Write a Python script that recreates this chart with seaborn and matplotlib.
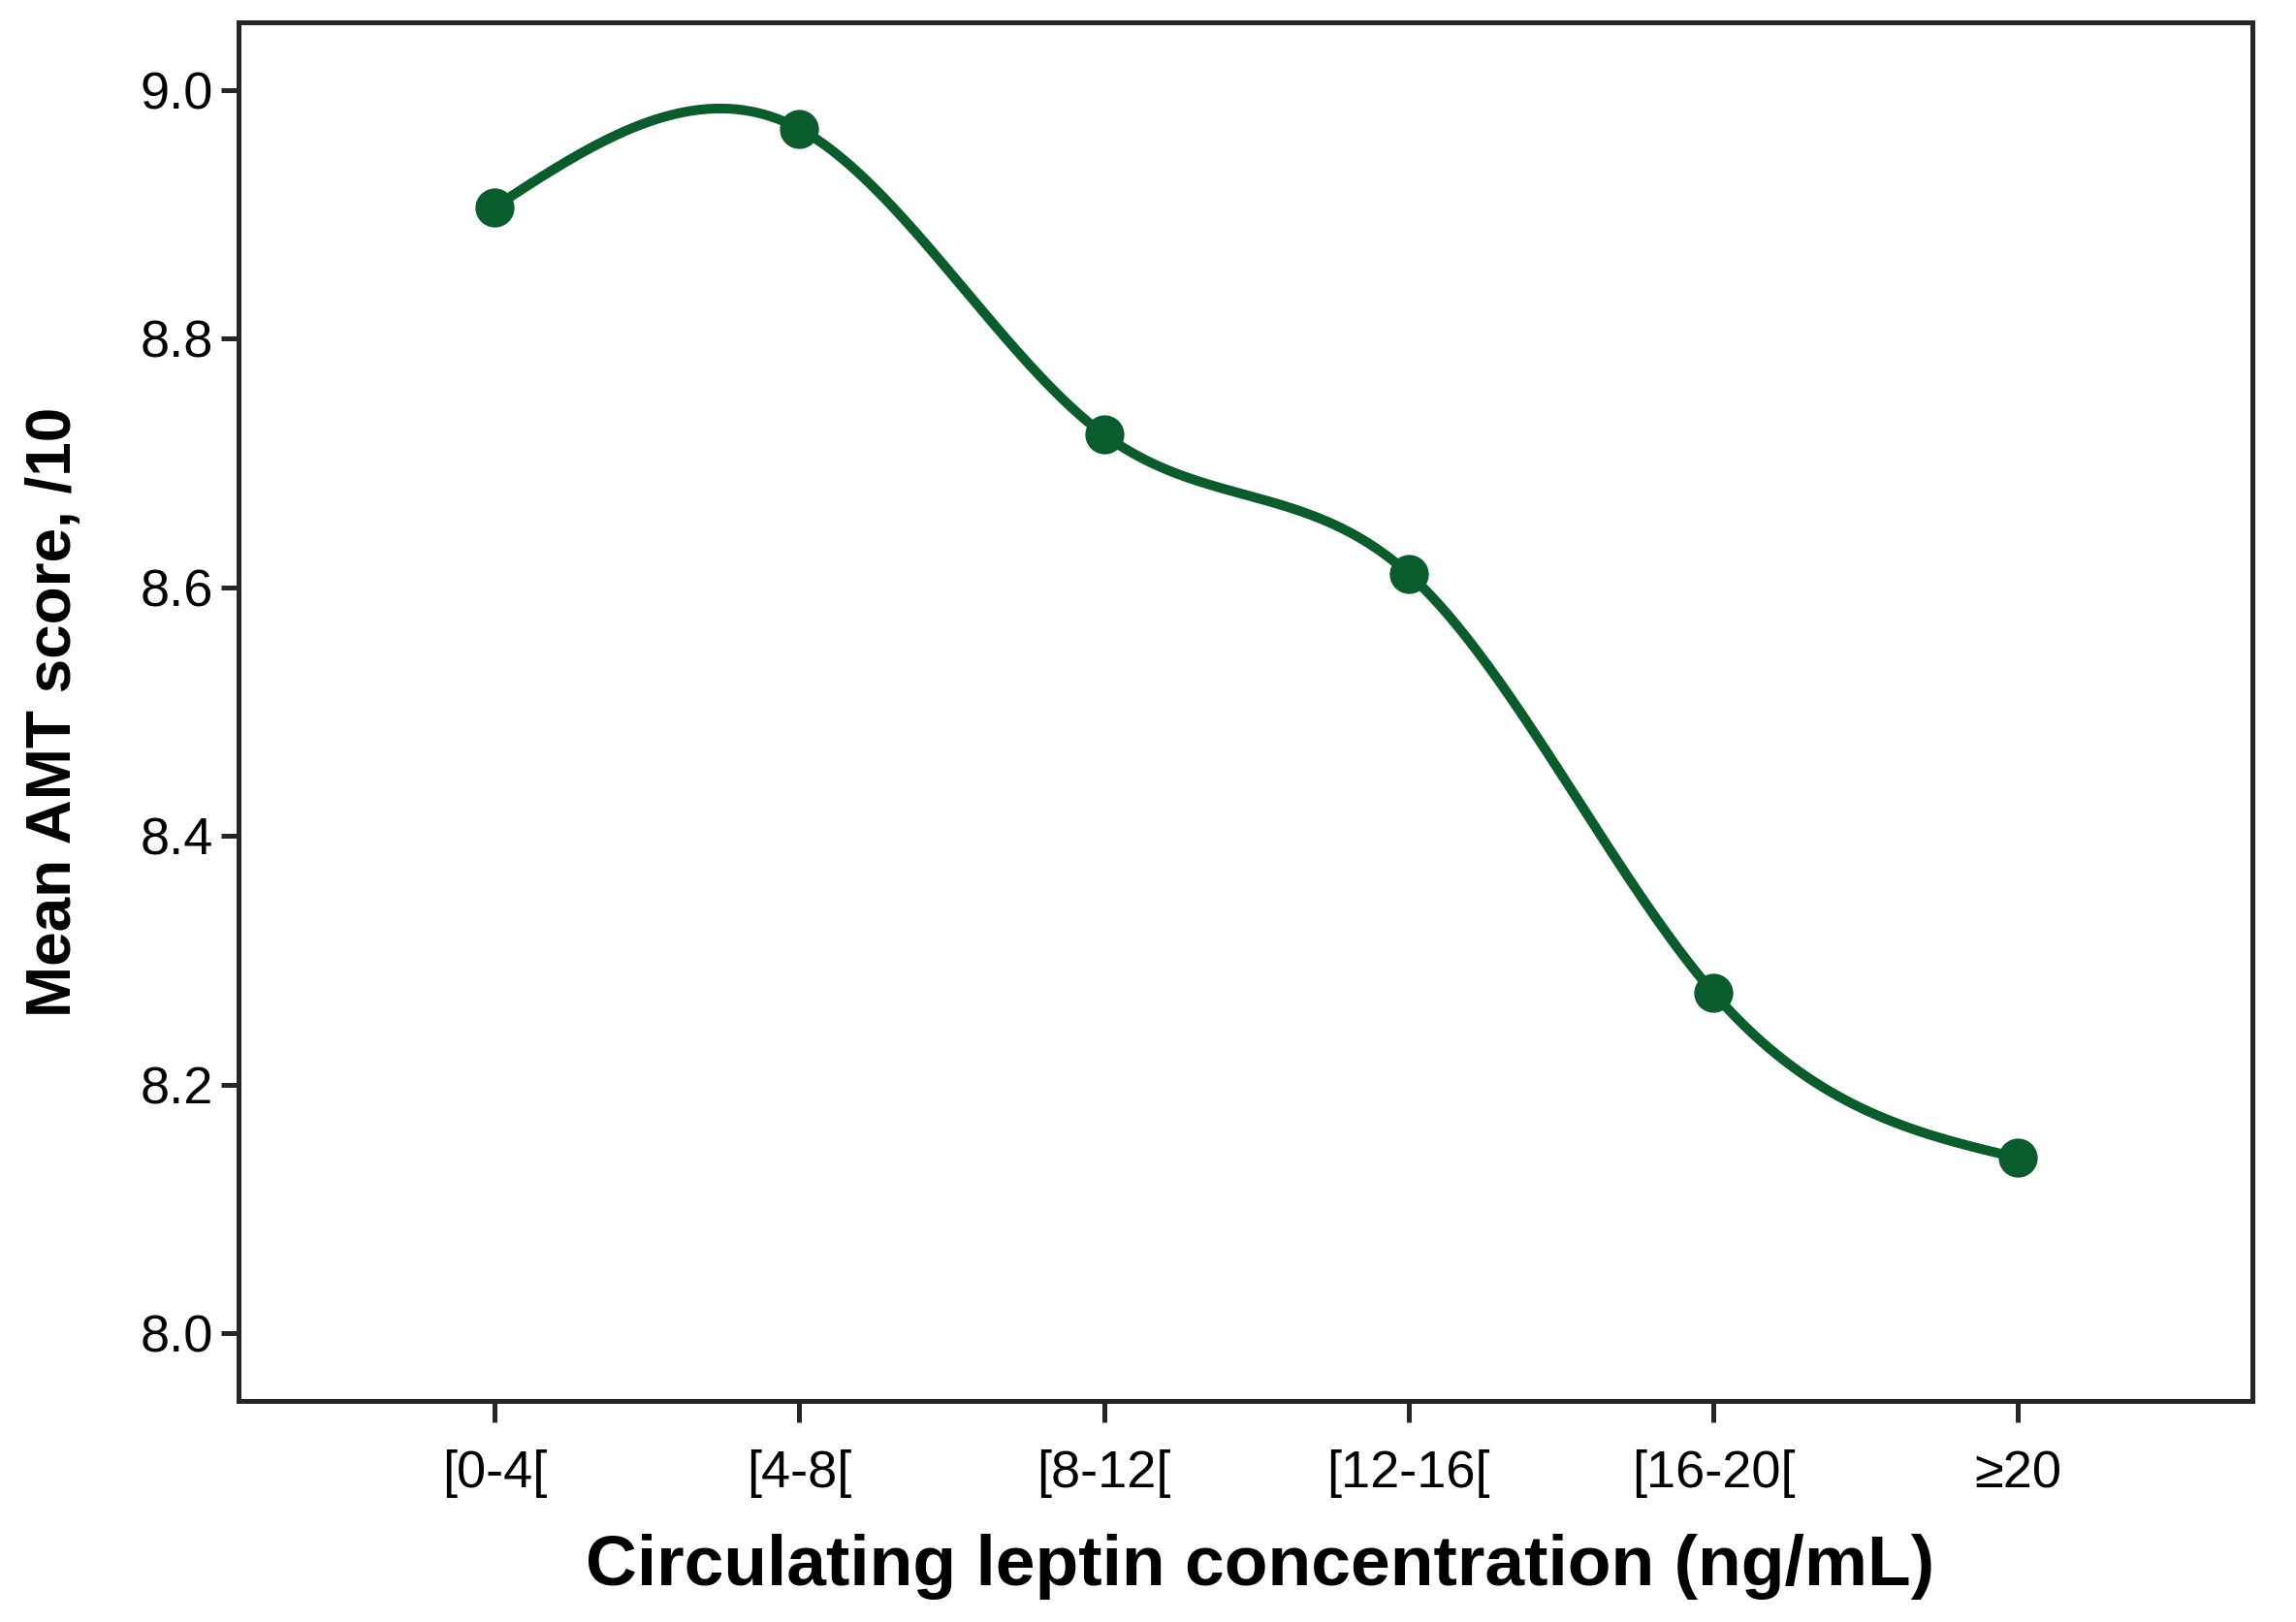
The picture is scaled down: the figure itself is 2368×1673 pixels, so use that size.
import numpy as np
import pandas as pd
import seaborn as sns
import matplotlib.pyplot as plt

categories = ['[0-4[', '[4-8[', '[8-12[', '[12-16[', '[16-20[', '≥20']
mean_amt = [8.906, 8.969, 8.723, 8.611, 8.274, 8.141]
yticks = [8.0, 8.2, 8.4, 8.6, 8.8, 9.0]

GREEN = '#0B5C2C'


def natural_spline(x, y, n=400):
    # natural cubic spline through the points, used only to draw the smooth line
    x = np.asarray(x, float)
    y = np.asarray(y, float)
    k = len(x)
    h = np.diff(x)
    A = np.zeros((k, k))
    b = np.zeros(k)
    A[0, 0] = A[-1, -1] = 1
    for i in range(1, k - 1):
        A[i, i - 1] = h[i - 1]
        A[i, i] = 2 * (h[i - 1] + h[i])
        A[i, i + 1] = h[i]
        b[i] = 3 * ((y[i + 1] - y[i]) / h[i] - (y[i] - y[i - 1]) / h[i - 1])
    c = np.linalg.solve(A, b)
    xs = np.linspace(x[0], x[-1], n)
    idx = np.clip(np.searchsorted(x, xs) - 1, 0, k - 2)
    dx = xs - x[idx]
    bb = (y[idx + 1] - y[idx]) / h[idx] - h[idx] * (2 * c[idx] + c[idx + 1]) / 3
    dd = (c[idx + 1] - c[idx]) / (3 * h[idx])
    ys = y[idx] + bb * dx + c[idx] * dx ** 2 + dd * dx ** 3
    return xs, ys


pos = np.arange(len(categories))
df = pd.DataFrame({'pos': pos, 'score': mean_amt})
sx, sy = natural_spline(pos, mean_amt)
curve = pd.DataFrame({'pos': sx, 'score': sy})

sns.set_style('white')
plt.rcParams['font.family'] = ['Liberation Sans', 'DejaVu Sans']
plt.rcParams['text.color'] = 'black'
plt.rcParams['axes.labelcolor'] = 'black'
plt.rcParams['xtick.color'] = 'black'
plt.rcParams['ytick.color'] = 'black'

fig = plt.figure(figsize=(11.84, 8.365), dpi=200)
ax = fig.add_axes([0.104, 0.136, 0.877, 0.8505])

sns.lineplot(data=curve, x='pos', y='score', color=GREEN, linewidth=3.6, ax=ax)
sns.scatterplot(data=df, x='pos', y='score', color=GREEN, s=210, edgecolor=GREEN,
                linewidth=0, ax=ax, zorder=3)

ax.set_xlim(-0.84, 5.77)
ax.set_ylim(7.945, 9.055)
ax.set_xticks(pos)
ax.set_xticklabels(categories)
ax.set_yticks(yticks)
ax.set_yticklabels([f'{v:.1f}' for v in yticks])

for s in ax.spines.values():
    s.set_visible(True)
    s.set_color('#262626')
    s.set_linewidth(1.8)

ax.tick_params(axis='y', which='major', left=True, length=6.5, width=1.8,
               color='#262626', labelsize=19.5, pad=3)
ax.tick_params(axis='x', which='major', bottom=True, length=8, width=1.8,
               color='#262626', labelsize=19.5, pad=10)

ax.set_ylabel('Mean AMT score, /10', fontsize=23, fontweight='bold')
ax.set_xlabel('Circulating leptin concentration (ng/mL)', fontsize=26.4,
              fontweight='bold')
ax.yaxis.set_label_coords(-0.077, 0.5)
ax.xaxis.set_label_coords(0.507, -0.096)

fig.savefig('out.png', dpi=200)
